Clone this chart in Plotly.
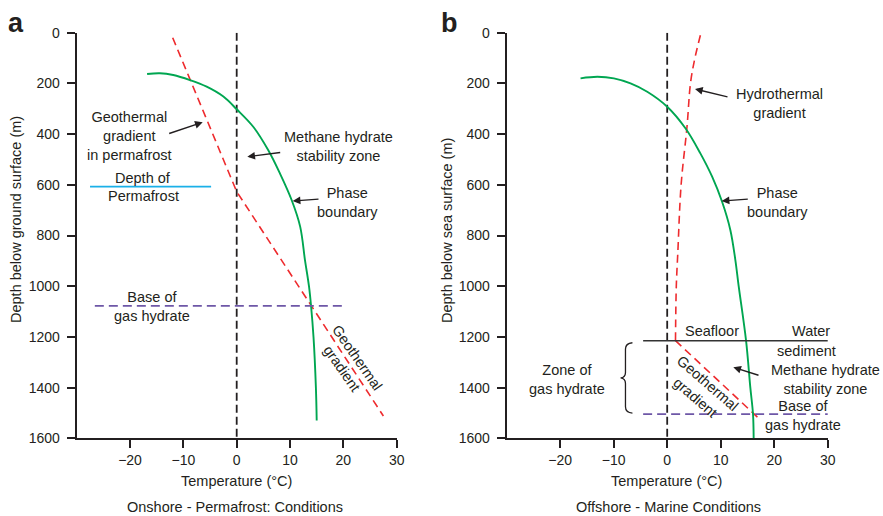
import plotly.graph_objects as go

# ---------------- data: panel a (onshore / permafrost) ----------------
a_phase_T = [-16.8, -14.4, -11.9, -8.76, -5.63, -2.5, 0.0, 3.1, 5.9, 8.1, 10.3, 11.9, 12.8, 13.55, 13.95, 14.4, 14.85, 15.0]
a_phase_depth = [163, 160, 167, 187, 213, 252, 302, 371, 463, 555, 660, 765, 897, 1000, 1080, 1200, 1400, 1530]
a_geo_T = [-12.0, 0.0, 27.5]
a_geo_depth = [20, 627, 1512]
a_permafrost_T = [-27.5, -4.8]
a_permafrost_depth = 607
a_base_T = [-26.6, 20.0]
a_base_depth = 1078

# ---------------- data: panel b (offshore / marine) ----------------
b_phase_T = [-16.2, -13.06, -9.96, -6.85, -3.73, 0.0, 3.41, 6.2, 8.4, 10.26, 11.8, 12.74, 13.36, 14.74, 15.54, 16.04, 16.16]
b_phase_depth = [180, 174, 180, 200, 233, 292, 377, 476, 568, 667, 778, 897, 1000, 1215, 1400, 1505, 1600]
b_hydro_T = [6.2, 5.1, 4.35, 3.7, 2.6, 1.98, 1.7, 1.55]
b_hydro_depth = [10, 108, 200, 371, 600, 870, 1000, 1215]
b_geo_T = [1.55, 17.1]
b_geo_depth = [1215, 1521]
b_seafloor_T = [-4.5, 31]
b_seafloor_depth = 1215
b_base_T = [-4.5, 31]
b_base_depth = 1505

zero_T = [0, 0]
zero_depth = [0, 1600]

x_ticks = [-20, -10, 0, 10, 20, 30]
y_ticks = [0, 200, 400, 600, 800, 1000, 1200, 1400, 1600]

# ---------------- styles ----------------
W, H = 883, 516
FONT = "Liberation Sans, Arial, Helvetica, sans-serif"
INK = "#231F20"
GREEN = "#00A651"
RED = "#EE2B2E"
CYAN = "#1AB0E8"
PURPLE = "#6E57A7"


def px(x):
    return x / W


def py(y):
    return 1 - y / H


fig = go.Figure()


def line(x, y, color, width=1.6, dash=None, xa="x", ya="y", spline=False):
    fig.add_trace(go.Scatter(
        x=x, y=y, mode="lines", xaxis=xa, yaxis=ya, showlegend=False,
        hoverinfo="skip",
        line=dict(color=color, width=width, dash=dash,
                  shape="spline" if spline else "linear", smoothing=1.0)))


# panel a
line(zero_T, zero_depth, INK, 1.8, "8px,4px")
line(a_geo_T, a_geo_depth, RED, 1.6, "8px,5px")
line(a_phase_T, a_phase_depth, GREEN, 1.9, spline=True)
line(a_permafrost_T, [a_permafrost_depth] * 2, CYAN, 1.8)
line(a_base_T, [a_base_depth] * 2, PURPLE, 1.7, "9px,5px")

# panel b
line(zero_T, zero_depth, INK, 1.8, "8px,4px", "x2", "y2")
line(b_hydro_T, b_hydro_depth, RED, 1.6, "8px,5px", "x2", "y2", spline=True)
line(b_geo_T, b_geo_depth, RED, 1.6, "8px,5px", "x2", "y2")
line(b_phase_T, b_phase_depth, GREEN, 1.9, None, "x2", "y2", spline=True)
line(b_seafloor_T, [b_seafloor_depth] * 2, "#333333", 1.6, None, "x2", "y2")
line(b_base_T, [b_base_depth] * 2, PURPLE, 1.7, "9px,5px", "x2", "y2")

axis_common = dict(
    showline=True, linecolor=INK, linewidth=2, mirror=False,
    ticks="outside", ticklen=8, tickwidth=1.5, tickcolor=INK,
    showgrid=False, zeroline=False, automargin=False,
    tickfont=dict(family=FONT, size=14, color=INK),
)
xcommon = dict(axis_common, range=[-30, 30], tickvals=x_ticks)
ycommon = dict(axis_common, range=[1600, 0], tickvals=y_ticks, ticklabelstandoff=4)

ydom = [1 - 438.3 / H, 1 - 32.7 / H]
fig.update_layout(
    width=W, height=H,
    margin=dict(l=0, r=0, t=0, b=0, pad=0, autoexpand=False),
    paper_bgcolor="white", plot_bgcolor="white",
    font=dict(family=FONT, color=INK, size=14),
    xaxis=dict(xcommon, domain=[76.7 / W, 396.7 / W], anchor="y"),
    yaxis=dict(ycommon, domain=ydom, anchor="x"),
    xaxis2=dict(xcommon, domain=[506.7 / W, 827.7 / W], anchor="y2"),
    yaxis2=dict(ycommon, domain=ydom, anchor="x2"),
)

# brace for "Zone of gas hydrate", built from seafloor / base depths
top, bot = b_seafloor_depth + 8, b_base_depth - 4
mid = (top + bot) / 2
xe, xv, xt = -6.5, -7.8, -8.7
brace = (f"M {xe},{top} Q {xv},{top + 2} {xv},{top + 25} "
         f"L {xv},{mid - 22} Q {xv},{mid - 3} {xt},{mid} "
         f"Q {xv},{mid + 3} {xv},{mid + 22} "
         f"L {xv},{bot - 25} Q {xv},{bot - 2} {xe},{bot}")
fig.add_shape(type="path", path=brace, xref="x2", yref="y2",
              line=dict(color=INK, width=1.3))


def text(x, y, s, size=14.5, angle=0, bold=False, align="center"):
    fig.add_annotation(
        x=px(x), y=py(y), xref="paper", yref="paper", text=s,
        showarrow=False, textangle=angle, align=align,
        xanchor="center", yanchor="middle",
        font=dict(family=FONT, size=size, color=INK,
                  weight="bold" if bold else "normal"))


def arrow(hx, hy, tx, ty):
    fig.add_annotation(
        x=px(hx), y=py(hy), xref="paper", yref="paper", text="",
        showarrow=True, ax=tx - hx, ay=ty - hy,
        arrowhead=2, arrowsize=1.1, arrowwidth=1.4, arrowcolor=INK)


# panel a labels
text(16, 23, "a", 27, bold=True)
text(129, 136, "Geothermal<br>gradient<br>in permafrost")
arrow(202.7, 122.3, 167.7, 134)
text(338, 146.7, "Methane hydrate<br>stability zone")
arrow(247.3, 156.7, 281.7, 152.3)
text(347.7, 202, "Phase<br>boundary")
arrow(292.7, 201, 320, 199)
text(143.3, 178.3, "Depth of")
text(143.3, 196, "Permafrost")
text(151.7, 306, "Base of<br>gas hydrate")
text(350, 363, "Geothermal<br>gradient", angle=55)
text(236.7, 480.7, "Temperature (°C)")
text(235, 506.5, "Onshore - Permafrost: Conditions")
text(16, 220, "Depth below ground surface (m)", angle=-90)

# panel b labels
text(449, 23, "b", 27, bold=True)
text(779.3, 103.3, "Hydrothermal<br>gradient")
arrow(695, 89, 729, 97.3)
text(777.7, 202, "Phase<br>boundary")
arrow(721.7, 201, 749.3, 199)
text(711.7, 331, "Seafloor")
text(810.7, 331, "Water")
text(806.7, 350.7, "sediment")
text(825, 379, "Methane hydrate<br>stability zone")
arrow(733.3, 367.3, 760, 375.7)
text(803.3, 415, "Base of<br>gas hydrate")
text(567.3, 379.5, "Zone of<br>gas hydrate")
text(701.7, 390, "Geothermal<br>gradient", angle=41)
text(666.7, 480.7, "Temperature (°C)")
text(668.3, 506.5, "Offshore - Marine Conditions")
text(447, 230, "Depth below sea surface (m)", angle=-90)

fig.write_html(
    "out.html",
    config={"displayModeBar": False},
    post_script="document.body.style.margin='0px';"
                "document.documentElement.style.margin='0px';"
                "document.body.style.overflow='hidden';",
)
